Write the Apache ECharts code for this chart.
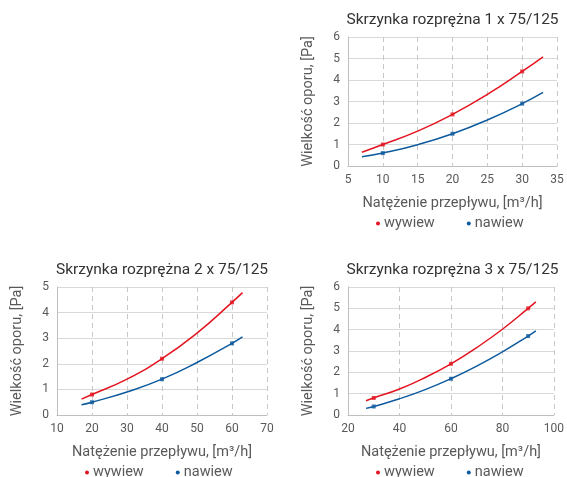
<!DOCTYPE html>
<html><head><meta charset="utf-8">
<script src="https://cdn.jsdelivr.net/npm/echarts@6/dist/echarts.min.js"></script>
<style>html,body{margin:0;padding:0;background:#fff}#c{width:567px;height:477px}</style>
</head><body><div id="c"></div>
<script>
// Chart titles
const titles = ['Skrzynka rozprężna 1 x 75/125','Skrzynka rozprężna 2 x 75/125','Skrzynka rozprężna 3 x 75/125'];
const seriesNames = ['wywiew','nawiew'];
const xAxisName = 'Natężenie przepływu, [m³/h]';
const yAxisName = 'Wielkość oporu, [Pa]';

// Chart 1 measured points
const c1x = [10, 20, 30];
const c1Wywiew = [1.0, 2.4, 4.4];
const c1Nawiew = [0.6, 1.5, 2.9];
// Chart 1 trend curves
const c1CurveX = [7, 10, 15, 20, 25, 30, 33];
const c1CurveWywiew = [0.64, 1.0, 1.62, 2.4, 3.33, 4.4, 5.08];
const c1CurveNawiew = [0.43, 0.6, 0.99, 1.5, 2.14, 2.9, 3.42];

// Chart 2
const c2x = [20, 40, 60];
const c2Wywiew = [0.8, 2.2, 4.4];
const c2Nawiew = [0.5, 1.4, 2.8];
const c2CurveX = [17, 20, 30, 40, 50, 60, 63];
const c2CurveWywiew = [0.62, 0.8, 1.4, 2.2, 3.2, 4.4, 4.78];
const c2CurveNawiew = [0.4, 0.5, 0.9, 1.4, 2.05, 2.8, 3.05];

// Chart 3
const c3x = [30, 60, 90];
const c3Wywiew = [0.8, 2.4, 5.0];
const c3Nawiew = [0.4, 1.7, 3.7];
const c3CurveX = [27, 30, 40, 50, 60, 70, 80, 90, 93];
const c3CurveWywiew = [0.67, 0.8, 1.22, 1.76, 2.4, 3.16, 4.02, 5.0, 5.3];
const c3CurveNawiew = [0.31, 0.4, 0.76, 1.19, 1.7, 2.29, 2.96, 3.7, 3.94];

// Axis ranges
const xRanges = [[5, 35, 5], [10, 70, 10], [20, 100, 20]];
const yRanges = [[0, 6, 1], [0, 5, 1], [0, 6, 1]];

const RED = '#e3141f';
const BLUE = '#0d5a9e';
const FONT = 'Roboto, "DejaVu Sans", sans-serif';

const grids = [
  {left: 348, top: 37, width: 209, height: 129},
  {left: 57, top: 287, width: 210, height: 128},
  {left: 348, top: 287, width: 209, height: 128}
];
const curves = [
  [c1CurveX, c1CurveWywiew, c1CurveNawiew, c1x, c1Wywiew, c1Nawiew],
  [c2CurveX, c2CurveWywiew, c2CurveNawiew, c2x, c2Wywiew, c2Nawiew],
  [c3CurveX, c3CurveWywiew, c3CurveNawiew, c3x, c3Wywiew, c3Nawiew]
];
const zip = (a, b) => a.map((v, i) => [v, b[i]]);

const option = {
  animation: false,
  textStyle: {fontFamily: FONT},
  title: grids.map((g, i) => ({
    text: titles[i], left: g.left + g.width / 2 - 5, top: g.top - 30, textAlign: 'center',
    textStyle: {fontFamily: FONT, fontSize: 15.5, fontWeight: 'normal', color: '#333'}
  })),
  legend: grids.map((g, i) => ({
    data: seriesNames.map(n => ({name: n, icon: 'circle'})),
    left: g.left + 23, top: g.top + g.height + 45, itemWidth: 4, itemHeight: 4, itemGap: 32,
    textStyle: {fontFamily: FONT, fontSize: 14.5, color: '#595959', padding: [0, 0, 0, -1]}
  })),
  grid: grids,
  xAxis: grids.map((g, i) => ({
    type: 'value', gridIndex: i, min: xRanges[i][0], max: xRanges[i][1], interval: xRanges[i][2],
    name: xAxisName, nameLocation: 'middle', nameGap: 30,
    nameTextStyle: {fontFamily: FONT, fontSize: 14.5, color: '#595959'},
    axisLine: {lineStyle: {color: '#bfbfbf'}}, axisTick: {show: false},
    axisLabel: {color: '#595959', fontSize: 12, margin: 8},
    splitLine: {show: true, lineStyle: {color: '#c8c8c8', type: [5, 4]}}
  })),
  yAxis: grids.map((g, i) => ({
    type: 'value', gridIndex: i, min: yRanges[i][0], max: yRanges[i][1], interval: yRanges[i][2],
    name: yAxisName, nameLocation: 'middle', nameGap: 32,
    nameTextStyle: {fontFamily: FONT, fontSize: 14.5, color: '#595959'},
    axisLine: {show: true, lineStyle: {color: '#bfbfbf'}}, axisTick: {show: false},
    axisLabel: {color: '#595959', fontSize: 12, margin: 8},
    splitLine: {show: true, lineStyle: {color: '#d9d9d9', type: 'solid'}}
  })),
  series: []
};
curves.forEach((c, i) => {
  option.series.push(
    {name: 'wywiew', type: 'line', xAxisIndex: i, yAxisIndex: i, data: zip(c[0], c[1]), smooth: 0.5,
     showSymbol: false, lineStyle: {color: RED, width: 1.5}, itemStyle: {color: RED}},
    {name: 'nawiew', type: 'line', xAxisIndex: i, yAxisIndex: i, data: zip(c[0], c[2]), smooth: 0.5,
     showSymbol: false, lineStyle: {color: BLUE, width: 1.5}, itemStyle: {color: BLUE}},
    {name: 'wywiew', type: 'scatter', xAxisIndex: i, yAxisIndex: i, data: zip(c[3], c[4]),
     symbol: 'rect', symbolSize: 4, itemStyle: {color: RED}},
    {name: 'nawiew', type: 'scatter', xAxisIndex: i, yAxisIndex: i, data: zip(c[3], c[5]),
     symbol: 'rect', symbolSize: 4, itemStyle: {color: BLUE}}
  );
});
const chart = echarts.init(document.getElementById('c'), null, {renderer: 'canvas'});
chart.setOption(option);
</script></body></html>
